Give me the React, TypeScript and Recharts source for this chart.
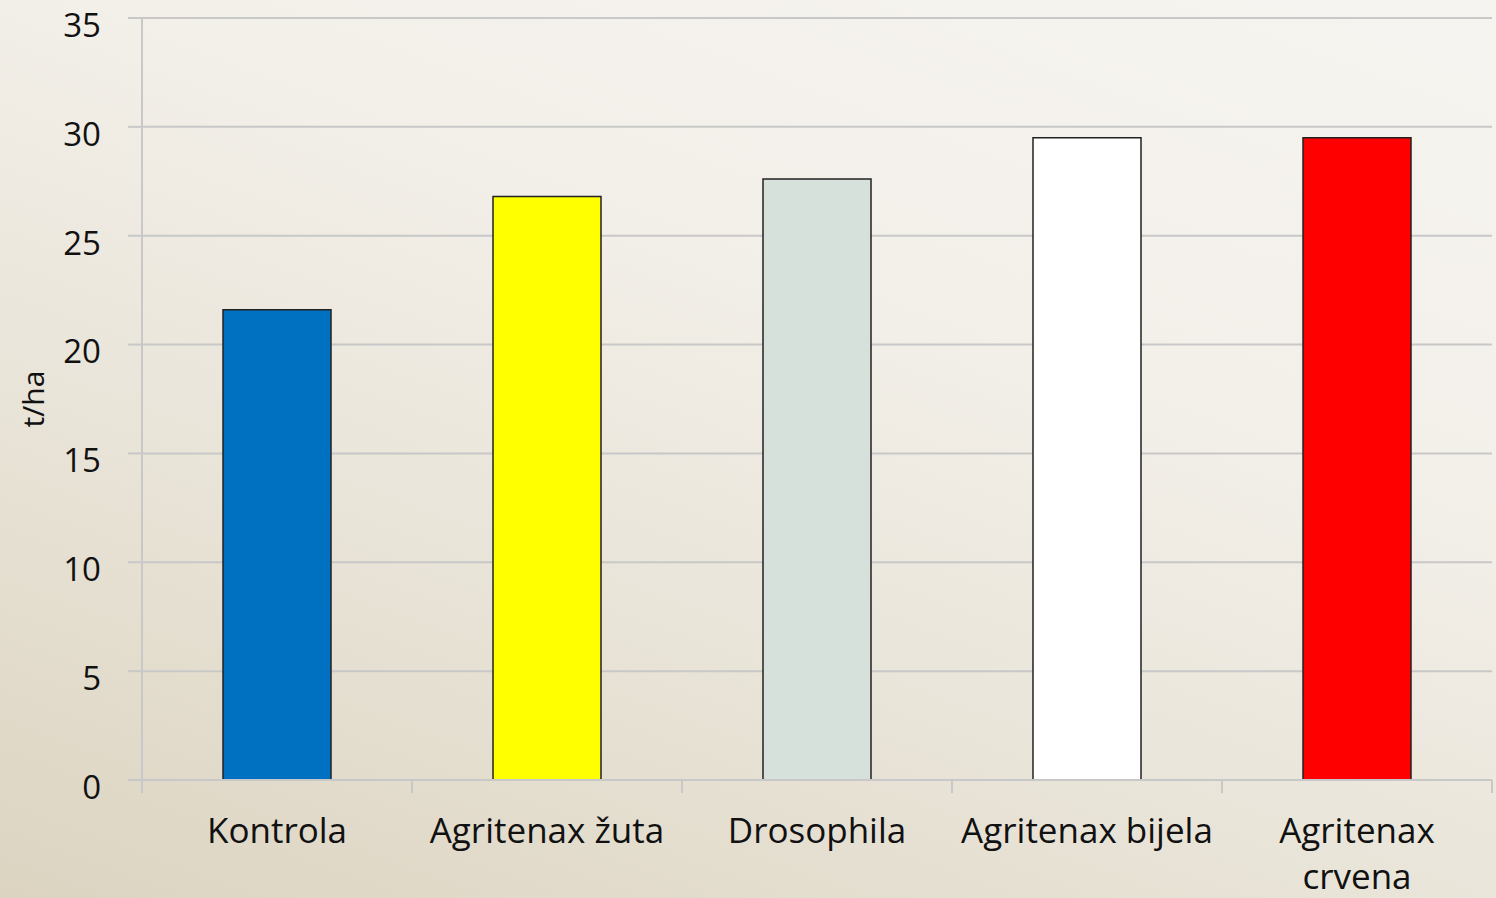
import { BarChart, Bar, XAxis, YAxis, CartesianGrid, Cell } from 'recharts';

const categories = ['Kontrola', 'Agritenax žuta', 'Drosophila', 'Agritenax bijela', 'Agritenax crvena'];
const yields = [21.6, 26.8, 27.6, 29.5, 29.5];
const barColors = ['#0070C0', '#FFFF00', '#D7E1DC', '#FFFFFF', '#FF0000'];
const yTicks = [0, 5, 10, 15, 20, 25, 30, 35];

const data = categories.map((name, i) => ({ name, value: yields[i] }));

const FONT = '"Open Sans", sans-serif';
const GRID = '#c8c8c8';
const LABEL_SIZE = 35;

let ctx: CanvasRenderingContext2D | null = null;
function measure(s: string) {
  if (!ctx) ctx = document.createElement('canvas').getContext('2d');
  if (!ctx) return s.length * LABEL_SIZE * 0.5;
  ctx.font = `${LABEL_SIZE}px ${FONT}`;
  return ctx.measureText(s).width;
}

// break a category label into lines that fit the band
function wrap(label: string, maxWidth: number) {
  const words = label.split(' ');
  const lines: string[] = [];
  let cur = '';
  words.forEach((w) => {
    const next = cur ? `${cur} ${w}` : w;
    if (cur && measure(next) > maxWidth) {
      lines.push(cur);
      cur = w;
    } else {
      cur = next;
    }
  });
  if (cur) lines.push(cur);
  return lines;
}

function CategoryTick(props: any) {
  const { x, y, payload, index, width, visibleTicksCount } = props;
  const band = width / visibleTicksCount;
  const lines = wrap(String(payload.value), band - 10);
  // tick marks sit on the category boundaries, not the centres
  const edges = [x - band / 2];
  if (index === visibleTicksCount - 1) edges.push(x + band / 2);
  return (
    <g>
      {edges.map((ex, i) => (
        <line key={i} x1={ex} x2={ex} y1={y} y2={y + 13} stroke={GRID} strokeWidth={2} />
      ))}
      <text x={x} y={y + 63} textAnchor='middle' fontFamily={FONT} fontSize={LABEL_SIZE} fill='#111'>
        {lines.map((l, i) => (
          <tspan key={i} x={x} dy={i === 0 ? 0 : 46}>
            {l}
          </tspan>
        ))}
      </text>
    </g>
  );
}

function YTick(props: any) {
  const { x, y, payload } = props;
  return (
    <text x={x} y={y + 10} textAnchor='end' dominantBaseline='middle' fontFamily={FONT} fontSize={33} fill='#111'>
      {payload.value}
    </text>
  );
}

export default function App() {
  return (
    <div
      style={{
        position: 'absolute',
        left: 0,
        top: 0,
        width: 1496,
        height: 898,
        background: 'linear-gradient(20deg, #dcd4c1 0%, #e9e4d8 35%, #f3f0ea 65%, #f6f4f0 100%)',
      }}
    >
      <BarChart
        width={1496}
        height={898}
        data={data}
        margin={{ top: 18, right: 4, bottom: 0, left: 0 }}
        barCategoryGap='30%'
      >
        <CartesianGrid vertical={false} stroke={GRID} strokeWidth={2} />
        <XAxis
          dataKey='name'
          height={118}
          tickSize={0}
          tickMargin={0}
          tickLine={false}
          axisLine={{ stroke: GRID, strokeWidth: 2 }}
          interval={0}
          tick={<CategoryTick />}
        />
        <YAxis
          width={142}
          domain={[0, 35]}
          ticks={yTicks}
          interval={0}
          tickSize={14}
          tickMargin={27}
          tickLine={{ stroke: GRID, strokeWidth: 2 }}
          axisLine={{ stroke: GRID, strokeWidth: 2 }}
          tick={<YTick />}
          label={{
            value: 't/ha',
            angle: -90,
            position: 'insideLeft',
            offset: 33,
            style: { fontFamily: FONT, fontSize: 30, fill: '#111', textAnchor: 'middle' },
          }}
        />
        <Bar dataKey='value' isAnimationActive={false} stroke='#222' strokeWidth={1.5}>
          {data.map((_, i) => (
            <Cell key={`bar-${i}`} fill={barColors[i]} />
          ))}
        </Bar>
      </BarChart>
    </div>
  );
}
